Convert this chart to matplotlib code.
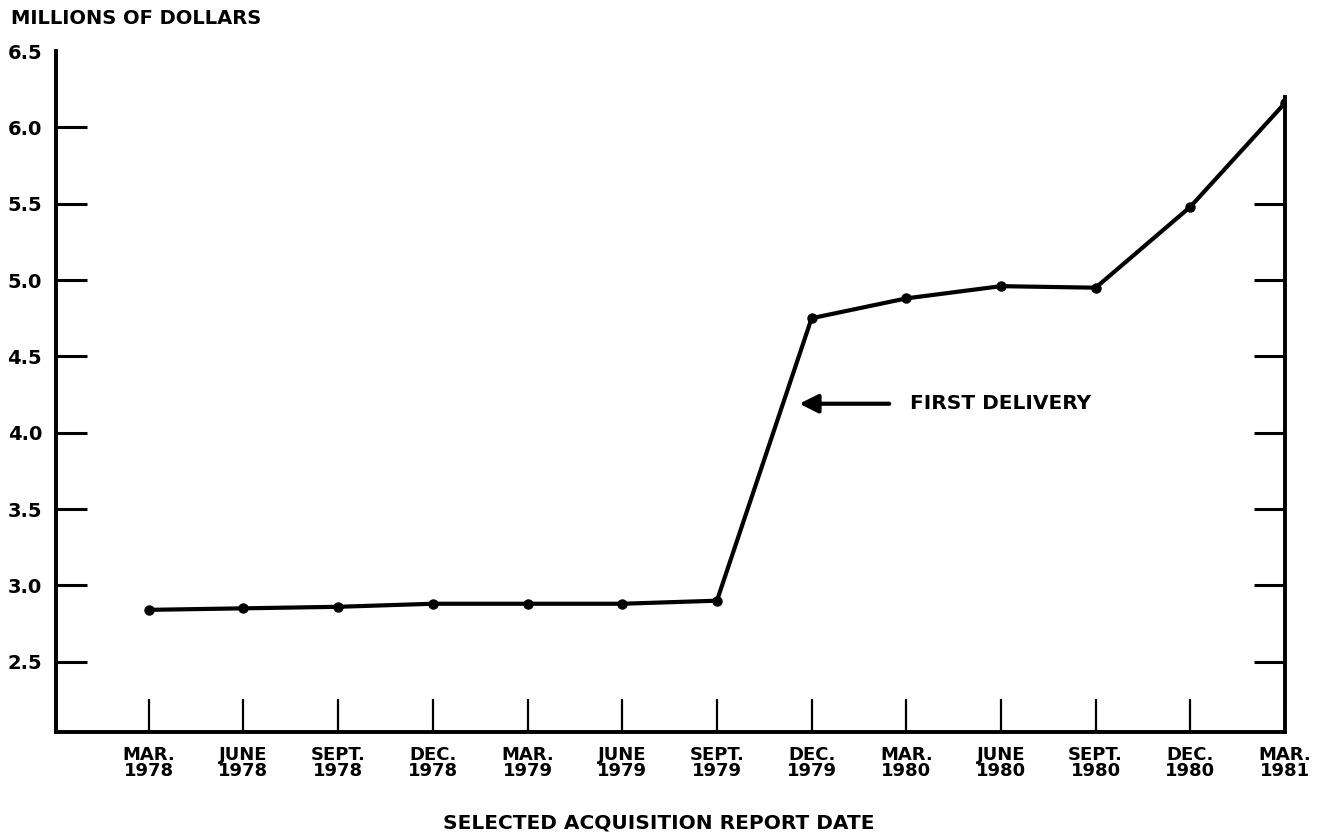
import matplotlib.pyplot as plt

# report dates and unit cost (millions of dollars)
dates = ['MAR.\n1978', 'JUNE\n1978', 'SEPT.\n1978', 'DEC.\n1978', 'MAR.\n1979',
         'JUNE\n1979', 'SEPT.\n1979', 'DEC.\n1979', 'MAR.\n1980', 'JUNE\n1980',
         'SEPT.\n1980', 'DEC.\n1980', 'MAR.\n1981']
cost = [2.84, 2.85, 2.86, 2.88, 2.88, 2.88, 2.90, 4.75, 4.88, 4.96, 4.95, 5.48, 6.16]
y_ticks = [2.5, 3.0, 3.5, 4.0, 4.5, 5.0, 5.5, 6.0]
top_label = 6.5
right_ticks = [2.5, 3.0, 3.5, 4.0, 4.5, 5.0, 5.5]

plt.rcParams['font.family'] = 'DejaVu Sans'
plt.rcParams['font.weight'] = 'bold'

fig = plt.figure(figsize=(13.18, 8.34), dpi=100)
ax = fig.add_axes([0.0425, 0.1223, 0.9325, 0.8165])

x = list(range(len(dates)))
ax.plot(x, cost, color='black', lw=3.0, marker='o', markersize=6.5, solid_capstyle='round')

ax.set_xlim(-0.98, 12)
ax.set_ylim(2.04, top_label)

ax.set_xticks(x)
ax.set_xticklabels(dates, fontsize=13, fontweight='bold', linespacing=0.9)
ax.set_yticks(y_ticks)
ax.set_yticklabels([f'{v:.1f}' for v in y_ticks], fontsize=14, fontweight='bold')
# top value gets a label but no tick mark
ax.set_yticks([top_label], minor=True)
ax.set_yticklabels([f'{top_label:.1f}'], minor=True, fontsize=14, fontweight='bold')
ax.tick_params(axis='x', direction='in', length=24, width=1.6, pad=10)
ax.tick_params(axis='y', which='major', direction='in', length=22, width=2.2, pad=10)
ax.tick_params(axis='y', which='minor', direction='in', length=0, pad=10)

ax.spines['top'].set_visible(False)
for s in ['left', 'bottom', 'right']:
    ax.spines[s].set_linewidth(2.8)
ax.spines['right'].set_bounds(2.04, 6.2)

# inward ticks on the right side
ax2 = ax.twinx()
ax2.set_ylim(ax.get_ylim())
ax2.set_yticks(right_ticks)
ax2.tick_params(axis='y', direction='in', length=22, width=2.2, labelright=False)
for s in ax2.spines.values():
    s.set_visible(False)

# annotation
ax.annotate('', xy=(6.87, 4.19), xytext=(7.82, 4.19),
            arrowprops=dict(arrowstyle='-|>', lw=3, color='black', mutation_scale=28,
                            shrinkA=0, shrinkB=0))
ax.text(8.04, 4.19, 'FIRST DELIVERY', fontsize=14.5, fontweight='bold', va='center', ha='left')

fig.text(0.008, 0.978, 'MILLIONS OF DOLLARS', fontsize=14, fontweight='bold', va='center', ha='left')
fig.text(0.5, 0.013, 'SELECTED ACQUISITION REPORT DATE', fontsize=14.5, fontweight='bold',
         va='center', ha='center')

fig.savefig('out.png', dpi=100)
